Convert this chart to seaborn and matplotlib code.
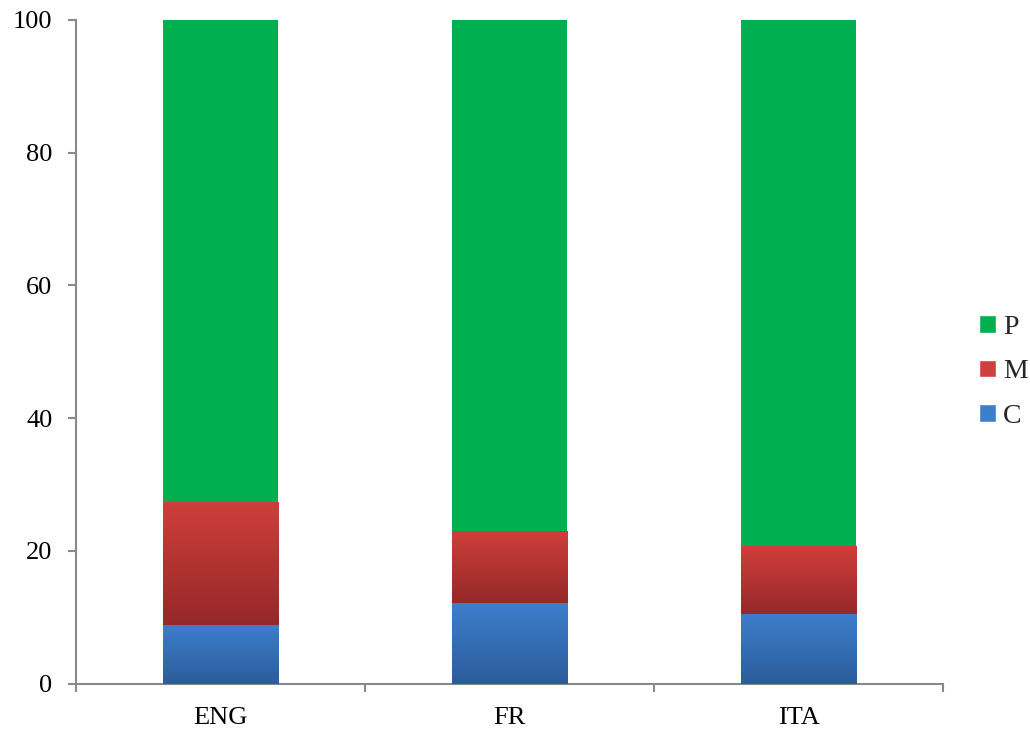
import numpy as np
import pandas as pd
import matplotlib
matplotlib.use("Agg")
import matplotlib.pyplot as plt
import seaborn as sns
from matplotlib.colors import LinearSegmentedColormap
from matplotlib.patches import Patch

categories = ["ENG", "FR", "ITA"]
C_vals = [8.8, 12.1, 10.5]
M_vals = [18.6, 10.9, 10.2]
P_vals = [72.6, 77.0, 79.3]
series_names = ["C", "M", "P"]

sns.set_theme(style="white")
plt.rcParams['font.family'] = ['Liberation Serif', 'DejaVu Serif']

fig = plt.figure(figsize=(10.30, 7.29), dpi=100)
ax = fig.add_axes([0.0738, 0.0624, 0.8417, 0.9102])

cum_C = np.array(C_vals)
cum_M = cum_C + np.array(M_vals)
cum_P = cum_M + np.array(P_vals)

grad = {
    "P": ("#00AF50", "#00AF50"),
    "M": ("#CF3F3B", "#962829"),
    "C": ("#3D7ECB", "#2C5C9C"),
}

layers = [("P", cum_P, cum_M), ("M", cum_M, cum_C), ("C", cum_C, np.zeros(3))]
for name, top, bottom in layers:
    df = pd.DataFrame({"cat": categories, "val": top})
    n_before = len(ax.patches)
    sns.barplot(data=df, x="cat", y="val", color=grad[name][0], width=0.4,
                saturation=1, ax=ax, zorder=2)
    new = ax.patches[n_before:]
    cmap = LinearSegmentedColormap.from_list(name, [grad[name][1], grad[name][0]])
    for p, b in zip(new, bottom):
        x0 = p.get_x(); w = p.get_width(); t = p.get_height()
        p.set_linewidth(0)
        if name != "P":
            img = np.linspace(0, 1, 256).reshape(-1, 1)
            im = ax.imshow(img, cmap=cmap, aspect="auto", origin="lower",
                           extent=[x0, x0 + w, b, t], zorder=3 + (name == "C"))
            im.set_clip_path(p)

ax.set_xlim(-0.5, 2.5)
ax.set_ylim(0, 100)
ax.set_xlabel("")
ax.set_ylabel("")

spine_c = "#898989"
for s in ["top", "right"]:
    ax.spines[s].set_visible(False)
for s in ["left", "bottom"]:
    ax.spines[s].set_color(spine_c)
    ax.spines[s].set_linewidth(1.5)

ax.set_yticks([0, 20, 40, 60, 80, 100])
ax.tick_params(axis="y", left=True, length=6, width=1.5, color=spine_c,
               labelsize=19, pad=11, labelcolor="black")
ax.set_xticks([-0.5, 0.5, 1.5, 2.5])
ax.set_xticklabels(["", "", "", ""])
ax.set_xticks([0, 1, 2], minor=True)
ax.set_xticklabels(categories, minor=True)
ax.tick_params(axis="x", which="major", bottom=True, length=6, width=1.5, color=spine_c)
ax.tick_params(axis="x", which="minor", bottom=True, length=0, labelsize=19, pad=17,
               labelcolor="black")
ax.grid(False)

handles = [Patch(facecolor=grad["P"][0]), Patch(facecolor=grad["M"][0]),
           Patch(facecolor=grad["C"][0])]
fig.legend(handles, ["P", "M", "C"], loc="center left", bbox_to_anchor=(0.940, 0.49),
           frameon=False, fontsize=20, handlelength=0.6, handleheight=0.6,
           handletextpad=0.25, labelspacing=0.7, borderaxespad=0)

fig.savefig("out.png", dpi=100)
